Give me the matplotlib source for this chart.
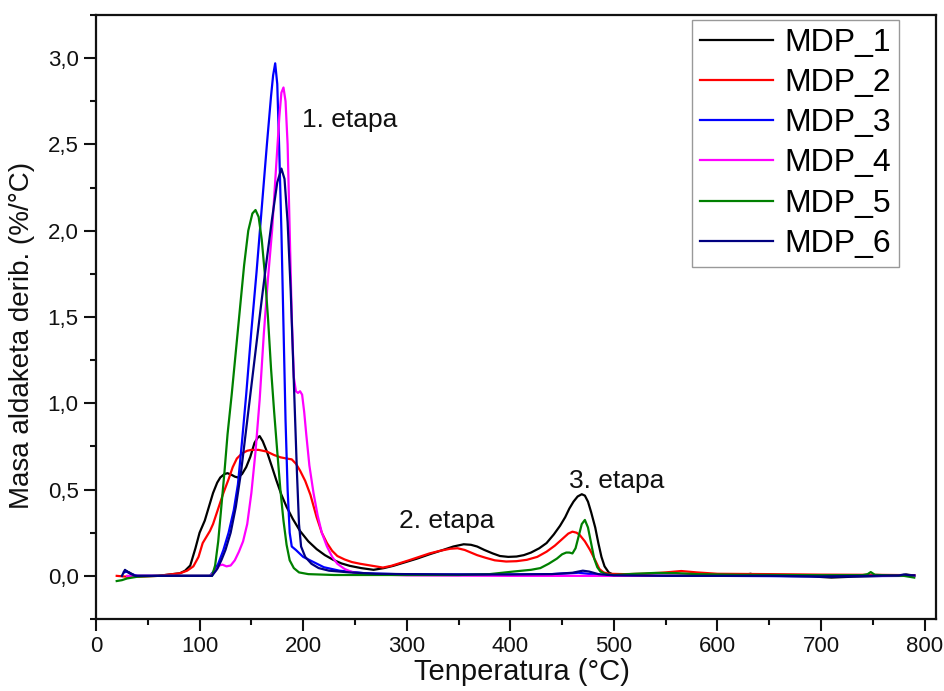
import matplotlib
matplotlib.use("Agg")
import matplotlib.pyplot as plt
from matplotlib.ticker import MultipleLocator, FuncFormatter

plt.rcParams['font.family'] = ['Liberation Sans', 'DejaVu Sans']

# ---------------- data ----------------
T1 = [28, 32, 38, 60, 81, 86, 91, 96, 100, 105, 109, 113, 117, 120, 124, 127, 131, 134, 137, 141,
      145, 149, 153, 156, 158, 161, 165, 170, 174, 179, 184, 190, 197, 205, 213, 221, 229, 237, 245, 256,
      268, 278, 287, 298, 310, 322, 335, 345, 355, 362, 368, 375, 383, 390, 398, 406, 413, 420, 428, 435,
      442, 448, 453, 457, 461, 465, 469, 472, 475, 478, 482, 485, 488, 491, 495, 500, 520, 560, 600, 625,
      632, 638, 660, 690, 710, 730, 760, 778, 782, 790]
V1 = [0.03, 0.02, 0.0, 0.0, 0.015, 0.03, 0.06, 0.16, 0.25, 0.32, 0.40, 0.48, 0.54, 0.57, 0.59, 0.595, 0.585, 0.575, 0.57, 0.59,
      0.63, 0.69, 0.77, 0.80, 0.81, 0.78, 0.72, 0.63, 0.556, 0.47, 0.40, 0.33, 0.26, 0.20, 0.155, 0.12, 0.093, 0.072, 0.058, 0.045,
      0.035, 0.045, 0.058, 0.078, 0.10, 0.125, 0.15, 0.17, 0.183, 0.18, 0.17, 0.15, 0.13, 0.115, 0.11, 0.112, 0.12, 0.135, 0.16, 0.19,
      0.24, 0.29, 0.34, 0.39, 0.43, 0.46, 0.473, 0.465, 0.43, 0.37, 0.28, 0.19, 0.11, 0.055, 0.02, 0.005, 0.0, 0.0, 0.002, 0.005,
      0.012, 0.003, 0.0, -0.003, -0.01, -0.005, 0.0, 0.002, 0.008, 0.002]

T2 = [20, 30, 40, 60, 81, 88, 94, 99, 103, 107, 110, 113, 118, 123, 128, 132, 136, 141, 146, 150,
      157, 165, 172, 178, 184, 189, 193, 197, 202, 207, 213, 218, 223, 228, 233, 240, 247, 255, 262, 270,
      277, 285, 293, 302, 312, 322, 332, 342, 349, 356, 362, 368, 376, 385, 396, 406, 416, 426, 435, 443,
      451, 456, 460, 464, 467, 472, 477, 482, 486, 490, 495, 510, 530, 550, 565, 580, 600, 650, 700, 750, 790]
V2 = [0.0, -0.005, -0.005, 0.0, 0.015, 0.03, 0.055, 0.11, 0.19, 0.23, 0.26, 0.30, 0.39, 0.48, 0.56, 0.63, 0.68, 0.71, 0.725, 0.73,
      0.73, 0.72, 0.70, 0.687, 0.68, 0.675, 0.65, 0.61, 0.55, 0.47, 0.34, 0.25, 0.19, 0.145, 0.115, 0.095, 0.08, 0.07, 0.063, 0.055,
      0.048, 0.058, 0.073, 0.09, 0.11, 0.13, 0.145, 0.157, 0.16, 0.15, 0.135, 0.12, 0.105, 0.09, 0.083, 0.085, 0.093, 0.11, 0.14, 0.175,
      0.218, 0.245, 0.256, 0.25, 0.237, 0.20, 0.15, 0.09, 0.04, 0.02, 0.012, 0.01, 0.012, 0.02, 0.028, 0.02, 0.012, 0.01, 0.007, 0.006, 0.004]

T3 = [27, 30, 34, 40, 80, 110, 114, 118, 123, 128, 133, 137, 141, 145, 150, 155, 160, 165, 169, 171,
      173, 175, 177, 179, 181, 183, 185, 187, 189, 193, 200, 210, 220, 235, 260, 290, 330, 400, 440, 458,
      466, 475, 490, 520, 600, 700, 790]
V3 = [0.02, 0.025, 0.01, 0.0, 0.0, 0.0, 0.03, 0.07, 0.15, 0.25, 0.38, 0.53, 0.78, 1.05, 1.42, 1.76, 2.13, 2.5, 2.78, 2.9,
      2.97, 2.85, 2.45, 2.0, 1.45, 0.9, 0.5, 0.25, 0.17, 0.15, 0.11, 0.08, 0.05, 0.03, 0.015, 0.01, 0.008, 0.008, 0.01, 0.015,
      0.018, 0.012, 0.003, 0.0, 0.0, -0.003, 0.0]

T4 = [30, 60, 110, 115, 119, 122, 126, 130, 134, 138, 142, 146, 150, 154, 158, 162, 166, 170, 174, 177,
      179, 181, 183, 185, 187, 189, 191, 193, 195, 197, 199, 201, 203, 206, 210, 214, 218, 223, 228, 233,
      240, 248, 260, 300, 400, 500, 600, 700, 790]
V4 = [0.0, 0.0, 0.0, 0.025, 0.06, 0.065, 0.055, 0.06, 0.09, 0.14, 0.2, 0.3, 0.48, 0.72, 1.02, 1.4, 1.72, 2.0, 2.38, 2.66,
      2.8, 2.83, 2.75, 2.5, 2.0, 1.5, 1.15, 1.07, 1.06, 1.07, 1.05, 0.95, 0.82, 0.64, 0.48, 0.35, 0.25, 0.17, 0.11, 0.07,
      0.04, 0.02, 0.01, 0.003, 0.0, 0.0, 0.0, 0.0, 0.0]

T5 = [20, 25, 30, 40, 60, 100, 112, 115, 118, 121, 124, 127, 131, 135, 139, 143, 147, 151, 154, 157,
      160, 163, 166, 169, 172, 175, 178, 181, 184, 187, 191, 196, 205, 230, 300, 350, 380, 403, 420, 429,
      437, 445, 450, 454, 457, 460, 463, 466, 469, 472, 475, 478, 481, 484, 487, 493, 500, 520, 540, 560,
      580, 620, 700, 740, 745, 748, 752, 760, 780, 790]
V5 = [-0.03, -0.025, -0.015, -0.005, 0.0, 0.0, 0.0, 0.06, 0.2, 0.4, 0.6, 0.82, 1.05, 1.3, 1.55, 1.8, 2.0, 2.1, 2.12, 2.08,
      1.95, 1.75, 1.5, 1.2, 0.95, 0.72, 0.5, 0.32, 0.18, 0.09, 0.045, 0.02, 0.01, 0.005, 0.005, 0.005, 0.01, 0.025, 0.035, 0.045,
      0.07, 0.1, 0.125, 0.135, 0.135, 0.13, 0.16, 0.23, 0.3, 0.324, 0.28, 0.19, 0.1, 0.05, 0.025, 0.008, 0.005, 0.012, 0.017, 0.016,
      0.01, 0.006, 0.004, 0.004, 0.01, 0.022, 0.006, 0.004, 0.0, -0.01]

T6 = [25, 28, 31, 34, 38, 80, 112, 117, 121, 125, 130, 135, 140, 145, 150, 155, 160, 165, 170, 175,
      179, 182, 185, 188, 190, 192, 194, 196, 198, 202, 208, 215, 225, 245, 270, 300, 350, 400, 440, 460,
      470, 476, 485, 500, 550, 650, 700, 750, 775, 780, 785, 790]
V6 = [0.0, 0.035, 0.02, 0.01, 0.0, 0.0, 0.0, 0.04, 0.09, 0.15, 0.25, 0.4, 0.6, 0.85, 1.1, 1.35, 1.6, 1.84, 2.07, 2.28,
      2.36, 2.3, 2.05, 1.65, 1.3, 0.95, 0.6, 0.3, 0.17, 0.11, 0.07, 0.045, 0.03, 0.02, 0.012, 0.01, 0.008, 0.008, 0.01, 0.018,
      0.03, 0.025, 0.01, 0.003, 0.0, 0.0, -0.003, 0.0, 0.002, 0.008, 0.004, 0.003]

series_names = ["MDP_1", "MDP_2", "MDP_3", "MDP_4", "MDP_5", "MDP_6"]
series_colors = ["#000000", "#ff0000", "#0000ff", "#ff00ff", "#008000", "#000080"]
series_T = [T1, T2, T3, T4, T5, T6]
series_V = [V1, V2, V3, V4, V5, V6]

stage_labels = ["1. etapa", "2. etapa", "3. etapa"]
stage_pos = [(199, 2.64), (293, 0.315), (457, 0.55)]

x_label = "Tenperatura (°C)"
y_label = "Masa aldaketa derib. (%/°C)"

# ---------------- figure ----------------
fig = plt.figure(figsize=(9.45, 6.91), dpi=100)
ax = fig.add_axes([96/945, 72/691, 840/945, 604/691])

for t, v, name, col in zip(series_T, series_V, series_names, series_colors):
    ax.plot(t, v, color=col, lw=1.6, label=name)

for lab, (px, py) in zip(stage_labels, stage_pos):
    ax.text(px, py, lab, fontsize=19, ha='left', va='center', color='#111111')

ax.set_xlim(0, 811)
ax.set_ylim(-0.25, 3.25)
ax.xaxis.set_major_locator(MultipleLocator(100))
ax.xaxis.set_minor_locator(MultipleLocator(50))
ax.yaxis.set_major_locator(MultipleLocator(0.5))
ax.yaxis.set_minor_locator(MultipleLocator(0.25))
ax.yaxis.set_major_formatter(FuncFormatter(lambda v, p: f"{v:.1f}".replace('.', ',')))

ax.tick_params(which='both', direction='out', top=False, right=False, width=1.5, labelsize=16, colors='#111111')
ax.tick_params(which='major', length=8.5, pad=4)
ax.tick_params(which='minor', length=4.5)
for s in ax.spines.values():
    s.set_linewidth(1.6)
    s.set_color('#111111')

ax.set_xlabel(x_label, fontsize=21, color='#111111')
ax.set_ylabel(y_label, fontsize=20, color='#111111')
ax.xaxis.set_label_coords(0.507, -0.065)
ax.yaxis.set_label_coords(-0.073, 0.47)

leg = ax.legend(loc='upper right', bbox_to_anchor=(0.956, 0.992), borderaxespad=0,
                fontsize=23, handlelength=2.3, handletextpad=0.35, labelspacing=0.32,
                borderpad=0.25, frameon=True, fancybox=False, edgecolor='#808080')
leg.get_frame().set_linewidth(1.0)

fig.savefig("out.png", dpi=100, facecolor='white')
